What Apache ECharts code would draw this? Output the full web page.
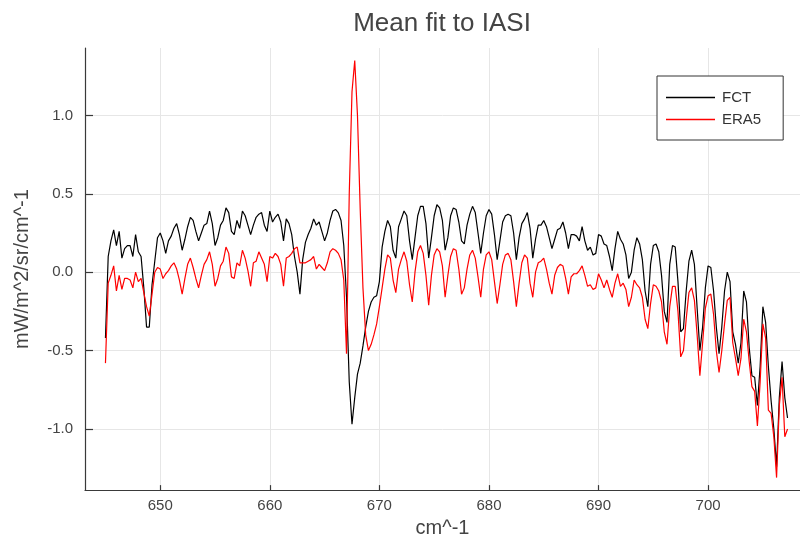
<!DOCTYPE html>
<html>
<head>
<meta charset="utf-8">
<title>Mean fit to IASI</title>
<script src="https://cdn.jsdelivr.net/npm/echarts@6/dist/echarts.min.js"></script>
<style>
  html, body { margin: 0; padding: 0; background: #ffffff; }
  #chart { width: 800px; height: 543px; }
</style>
</head>
<body>
<div id="chart"></div>
<script>
// IASI channel grid: 645.00 .. 707.25 cm^-1 at 0.25 cm^-1 spacing
const firstWavenumber = 645.0;
const channelStep = 0.25;

// Mean departure (mW/m^2/sr/cm^-1) per channel, forecast run
const fctBias = [
  -0.42, 0.10, 0.20, 0.27, 0.17, 0.26, 0.09, 0.15, 0.17, 0.17,
  0.10, 0.24, 0.13, 0.10, -0.10, -0.35, -0.35, -0.08, 0.07, 0.22,
  0.25, 0.20, 0.12, 0.20, 0.23, 0.28, 0.31, 0.24, 0.14, 0.21,
  0.29, 0.35, 0.33, 0.26, 0.20, 0.25, 0.30, 0.31, 0.39, 0.31,
  0.17, 0.22, 0.30, 0.33, 0.41, 0.38, 0.26, 0.24, 0.33, 0.28,
  0.39, 0.36, 0.30, 0.24, 0.30, 0.35, 0.37, 0.38, 0.30, 0.26,
  0.39, 0.32, 0.35, 0.37, 0.32, 0.20, 0.34, 0.31, 0.24, 0.10,
  0.00, -0.14, 0.08, 0.19, 0.24, 0.28, 0.34, 0.30, 0.32, 0.26,
  0.20, 0.25, 0.33, 0.39, 0.40, 0.38, 0.33, 0.17, -0.16, -0.70,
  -0.97, -0.80, -0.65, -0.58, -0.47, -0.35, -0.25, -0.19, -0.16, -0.15,
  -0.06, 0.16, 0.26, 0.33, 0.29, 0.14, 0.09, 0.29, 0.34, 0.39,
  0.36, 0.20, 0.08, 0.22, 0.36, 0.42, 0.42, 0.31, 0.09, 0.22,
  0.36, 0.43, 0.41, 0.33, 0.14, 0.22, 0.36, 0.41, 0.40, 0.32,
  0.20, 0.18, 0.30, 0.37, 0.42, 0.38, 0.25, 0.12, 0.25, 0.36,
  0.40, 0.37, 0.24, 0.08, 0.20, 0.32, 0.36, 0.37, 0.36, 0.25,
  0.08, 0.22, 0.31, 0.34, 0.38, 0.28, 0.09, 0.21, 0.30, 0.30,
  0.33, 0.29, 0.22, 0.15, 0.21, 0.27, 0.28, 0.32, 0.25, 0.15,
  0.24, 0.24, 0.23, 0.20, 0.29, 0.20, 0.14, 0.16, 0.11, 0.12,
  0.24, 0.23, 0.18, 0.17, 0.10, 0.01, 0.15, 0.26, 0.21, 0.18,
  0.11, -0.04, 0.00, 0.14, 0.22, 0.18, 0.08, -0.12, -0.22, 0.05,
  0.17, 0.18, 0.13, -0.02, -0.25, -0.32, 0.05, 0.17, 0.16, -0.06,
  -0.38, -0.36, -0.12, 0.07, 0.14, 0.05, -0.23, -0.50, -0.35, -0.10,
  0.04, 0.03, -0.12, -0.35, -0.52, -0.35, -0.12, 0.00, -0.06, -0.38,
  -0.46, -0.58, -0.45, -0.12, -0.19, -0.48, -0.66, -0.67, -0.85, -0.60,
  -0.22, -0.32, -0.60, -0.82, -1.00, -1.24, -0.80, -0.57, -0.80, -0.93
];

// Mean departure (mW/m^2/sr/cm^-1) per channel, ERA5 reanalysis
const era5Bias = [
  -0.58, -0.07, -0.02, 0.04, -0.12, -0.02, -0.11, -0.04, -0.04, -0.05,
  -0.10, 0.00, -0.06, -0.04, -0.13, -0.22, -0.28, -0.14, 0.00, 0.03,
  0.02, -0.04, -0.01, 0.01, 0.04, 0.06, 0.02, -0.05, -0.14, -0.04,
  0.05, 0.09, 0.03, -0.04, -0.10, -0.02, 0.05, 0.08, 0.13, 0.05,
  -0.09, -0.04, 0.04, 0.07, 0.16, 0.12, -0.03, -0.04, 0.06, 0.04,
  0.14, 0.09, 0.01, -0.09, 0.06, 0.07, 0.13, 0.09, 0.05, -0.06,
  0.10, 0.09, 0.12, 0.10, 0.05, -0.09, 0.09, 0.10, 0.12, 0.15,
  0.16, 0.06, 0.06, 0.06, 0.07, 0.08, 0.10, 0.02, 0.05, 0.03,
  0.01, 0.06, 0.13, 0.15, 0.14, 0.12, 0.08, -0.05, -0.52, 0.50,
  1.15, 1.35, 1.00, 0.40, -0.10, -0.40, -0.50, -0.46, -0.40, -0.33,
  -0.22, -0.10, 0.02, 0.11, 0.09, -0.05, -0.13, 0.02, 0.08, 0.13,
  0.07, -0.08, -0.19, 0.00, 0.13, 0.17, 0.12, -0.02, -0.21, -0.02,
  0.11, 0.15, 0.13, 0.04, -0.16, -0.02, 0.10, 0.15, 0.14, 0.02,
  -0.14, -0.10, 0.02, 0.11, 0.14, 0.09, -0.03, -0.16, 0.02, 0.11,
  0.13, 0.08, -0.06, -0.20, -0.08, 0.05, 0.11, 0.12, 0.08, -0.06,
  -0.22, -0.07, 0.06, 0.11, 0.09, -0.07, -0.16, 0.00, 0.06, 0.07,
  0.09, 0.02, -0.07, -0.14, -0.02, 0.03, 0.05, 0.04, -0.04, -0.14,
  -0.03, -0.01, -0.01, 0.01, 0.04, -0.02, -0.09, -0.08, -0.11, -0.10,
  -0.01, -0.05, -0.10, -0.05, -0.11, -0.16, -0.07, -0.01, -0.09, -0.07,
  -0.11, -0.22, -0.16, -0.05, -0.08, -0.10, -0.16, -0.30, -0.36, -0.20,
  -0.08, -0.09, -0.12, -0.19, -0.38, -0.46, -0.22, -0.09, -0.09, -0.25,
  -0.54, -0.50, -0.30, -0.13, -0.10, -0.18, -0.40, -0.66, -0.45, -0.23,
  -0.15, -0.14, -0.27, -0.50, -0.64, -0.50, -0.33, -0.18, -0.16, -0.45,
  -0.55, -0.66, -0.55, -0.30, -0.38, -0.57, -0.73, -0.76, -0.98, -0.70,
  -0.33, -0.42, -0.88, -0.90, -1.05, -1.31, -0.85, -0.67, -1.05, -1.00
];

// Axis tick positions
const xTicks = [650, 660, 670, 680, 690, 700];
const yTicks = [-1.0, -0.5, 0.0, 0.5, 1.0];

const wavenumbers = fctBias.map((_, i) => firstWavenumber + channelStep * i);
const pairs = (ys) => wavenumbers.map((x, i) => [x, ys[i]]);

// Axis limits padded by 3% of the data span; the plot frame runs a little
// past the right edge of the canvas, so the x range is cut where the canvas ends.
const pad = (lo, hi) => { const m = (hi - lo) * 0.03; return [lo - m, hi + m]; };
const xLim = pad(wavenumbers[0], wavenumbers[wavenumbers.length - 1]);
const PLOT_LEFT = 85, PLOT_FULL_WIDTH = 723, CANVAS_WIDTH = 800;
const visibleWidth = CANVAS_WIDTH - PLOT_LEFT;
const xMaxVisible = xLim[0] + (xLim[1] - xLim[0]) * visibleWidth / PLOT_FULL_WIDTH;
const allY = fctBias.concat(era5Bias);
const yLim = pad(Math.min(...allY), Math.max(...allY));

const FONT = 'Liberation Sans, Arial, Helvetica, sans-serif';
const AXIS_COLOR = '#3a3a3a';
const GRID_COLOR = '#e6e6e6';
const TEXT_COLOR = '#444444';

const chart = echarts.init(document.getElementById('chart'), null, { renderer: 'canvas' });

chart.setOption({
  animation: false,
  backgroundColor: '#ffffff',
  title: {
    text: 'Mean fit to IASI',
    left: 437,
    top: 6,
    textAlign: 'center',
    textStyle: { fontFamily: FONT, fontSize: 26, fontWeight: 'normal', color: TEXT_COLOR }
  },
  legend: {
    orient: 'vertical',
    left: 657,
    top: 76,
    padding: [14, 22, 13, 9],
    itemGap: 7,
    itemWidth: 49,
    itemHeight: 1.4,
    icon: 'rect',
    backgroundColor: '#ffffff',
    borderColor: '#333333',
    borderWidth: 1,
    borderRadius: 0,
    textStyle: { fontFamily: FONT, fontSize: 15, lineHeight: 14, color: '#333333', padding: [0, 0, 0, 2] },
    data: ['FCT', 'ERA5']
  },
  grid: {
    left: PLOT_LEFT,
    top: 48,
    width: visibleWidth,
    bottom: 49,
    containLabel: false
  },
  xAxis: {
    type: 'value',
    min: xLim[0],
    max: xMaxVisible,
    name: 'cm^-1',
    nameLocation: 'middle',
    nameGap: 25,
    nameTextStyle: { fontFamily: FONT, fontSize: 20, color: TEXT_COLOR },
    axisLine: { show: true, onZero: false, lineStyle: { color: AXIS_COLOR, width: 1.2 } },
    axisTick: { show: true, inside: true, length: 5, customValues: xTicks, lineStyle: { color: AXIS_COLOR, width: 1.2 } },
    axisLabel: { customValues: xTicks, fontFamily: FONT, fontSize: 15, color: TEXT_COLOR, margin: 8 },
    splitLine: { show: true, lineStyle: { color: GRID_COLOR, width: 1 } }
  },
  yAxis: {
    type: 'value',
    min: yLim[0],
    max: yLim[1],
    name: 'mW/m^2/sr/cm^-1',
    nameLocation: 'middle',
    nameGap: 53,
    nameRotate: 90,
    nameTextStyle: { fontFamily: FONT, fontSize: 20, color: TEXT_COLOR },
    axisLine: { show: true, onZero: false, lineStyle: { color: AXIS_COLOR, width: 1.2 } },
    axisTick: { show: true, inside: true, length: 8, customValues: yTicks, lineStyle: { color: AXIS_COLOR, width: 1.2 } },
    axisLabel: {
      customValues: yTicks,
      fontFamily: FONT, fontSize: 15, color: TEXT_COLOR, margin: 12,
      formatter: (v) => v.toFixed(1)
    },
    splitLine: { show: true, lineStyle: { color: GRID_COLOR, width: 1 } }
  },
  series: [
    {
      name: 'FCT',
      type: 'line',
      data: pairs(fctBias),
      showSymbol: false,
      symbol: 'none',
      lineStyle: { color: '#000000', width: 1.2 },
      itemStyle: { color: '#000000' },
      z: 2
    },
    {
      name: 'ERA5',
      type: 'line',
      data: pairs(era5Bias),
      showSymbol: false,
      symbol: 'none',
      lineStyle: { color: '#ff0000', width: 1.2 },
      itemStyle: { color: '#ff0000' },
      z: 3
    }
  ]
});
</script>
</body>
</html>
